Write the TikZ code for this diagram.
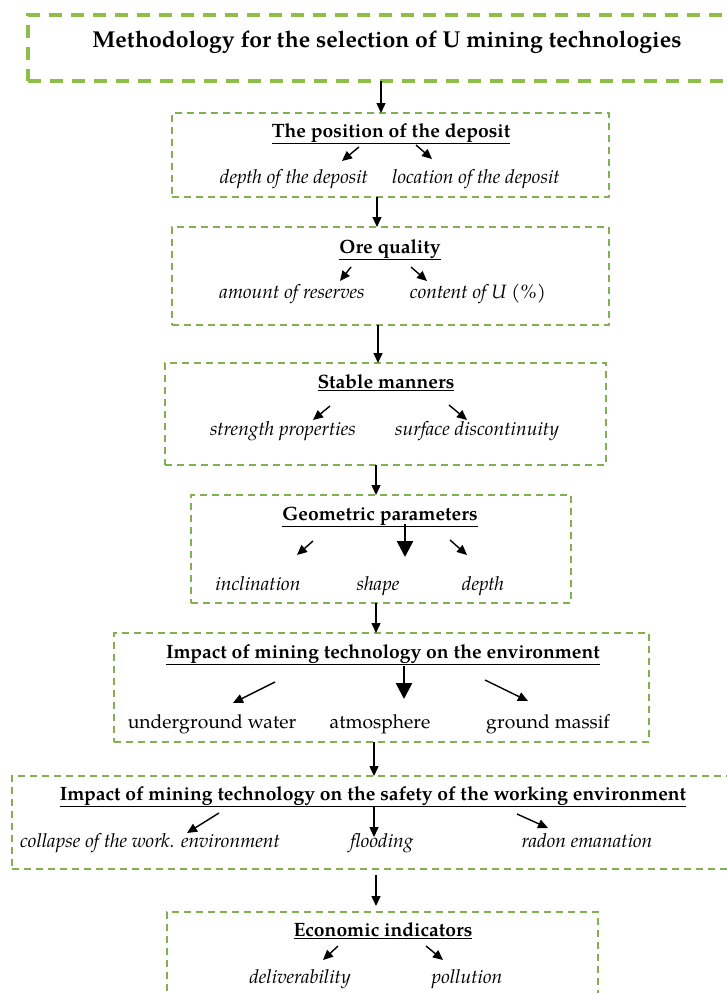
\documentclass[tikz,border=0pt]{standalone}
\usepackage{fontspec}
\setmainfont{TeX Gyre Pagella}
\usetikzlibrary{arrows.meta}
\definecolor{gthick}{RGB}{141,190,70}
\definecolor{gthin}{RGB}{128,176,82}
\tikzset{
  bigbox/.style={draw=gthick, line width=3.6pt, dash pattern=on 13pt off 9pt, inner sep=0pt, outer sep=0pt},
  thinbox/.style={draw=gthin, line width=1.4pt, dash pattern=on 7pt off 5pt, inner sep=0pt, outer sep=0pt},
  headtxt/.style={anchor=base, inner sep=0pt, font=\fontsize{19.3}{22}\selectfont\bfseries},
  maintxt/.style={anchor=base, inner sep=0pt, font=\fontsize{23}{27}\selectfont\bfseries},
  subit/.style={anchor=base, inner sep=0pt, font=\fontsize{19.3}{22}\selectfont\itshape},
  subup/.style={anchor=base, inner sep=0pt, font=\fontsize{19.3}{22}\selectfont},
  arr/.style={draw=black, line width=1.4pt, -{Triangle[width=9pt,length=10pt]}},
  bigarr/.style={draw=black, line width=2.6pt, -{Triangle[width=16pt,length=16pt]}}
}
\begin{document}
\begin{tikzpicture}[x=1pt,y=-1pt]
\useasboundingbox (0,0) rectangle (727,993);
\clip (0,0) rectangle (727,993);
% boxes
\node[bigbox, minimum width=710pt, minimum height=66pt] (b1) at (383,48) {};
\node[thinbox, minimum width=437pt, minimum height=84pt] (b2) at (390.5,155) {};
\node[thinbox, minimum width=437pt, minimum height=98pt] (b3) at (390.5,276) {};
\node[thinbox, minimum width=441pt, minimum height=102pt] (b4) at (385.5,414) {};
\node[thinbox, minimum width=380pt, minimum height=108pt] (b5) at (381,549) {};
\node[thinbox, minimum width=535pt, minimum height=109pt] (b6) at (381.5,687.5) {};
\node[thinbox, minimum width=728pt, minimum height=93pt] (b7) at (376,822.5) {};
\node[thinbox, minimum width=431pt, minimum height=98pt] (b8) at (382.5,961) {};
% texts
\node[maintxt] (t1) at (387,47) {Methodology for the selection of U mining technologies};
\node[headtxt] (t2) at (391,137) {\underline{The position of the deposit}};
\node[subit] (s2a) at (294,183) {depth of the deposit};
\node[subit] (s2b) at (476,183) {location of the deposit};
\node[headtxt] (t3) at (390,253) {\underline{Ore quality}};
\node[subit] (s3a) at (292,298) {amount of reserves};
\node[subit] (s3b) at (478,298) {content of U (\%)};
\node[headtxt] (t4) at (386,388) {\underline{Stable manners}};
\node[subit] (s4a) at (283,435) {strength properties};
\node[subit] (s4b) at (477,435) {surface discontinuity};
\node[headtxt] (t5) at (380,520) {\underline{Geometric parameters}};
\node[subit] (s5a) at (258,590) {inclination};
\node[subit] (s5b) at (378,590) {shape};
\node[subit] (s5c) at (483,590) {depth};
\node[headtxt] (t6) at (383,658) {\underline{Impact of mining technology on the environment}};
\node[subup] (s6a) at (212,728) {underground water};
\node[subup] (s6b) at (380,728) {atmosphere};
\node[subup] (s6c) at (548,728) {ground massif};
\node[headtxt] (t7) at (373,800) {\underline{Impact of mining technology on the safety of the working environment}};
\node[subit] (s7a) at (150,847) {collapse of the work. environment};
\node[subit] (s7b) at (382,847) {flooding};
\node[subit] (s7c) at (587,847) {radon emanation};
\node[headtxt] (t8) at (383,936) {\underline{Economic indicators}};
\node[subit] (s8a) at (300,983) {deliverability};
\node[subit] (s8b) at (467,983) {pollution};
% x positions for connectors between boxes
\coordinate (x1) at (381,0);
\coordinate (x2) at (377,0);
\coordinate (x3) at (378,0);
\coordinate (x4) at (376,0);
\coordinate (x5) at (376,0);
\coordinate (x6) at (374,0);
\coordinate (x7) at (376,0);
\draw[arr] (x1 |- b1.south) -- (x1 |- b2.north);
\draw[arr] (x2 |- b2.south) -- (x2 |- b3.north);
\draw[arr] (x3 |- b3.south) -- (x3 |- b4.north);
\draw[arr] (x4 |- b4.south) -- (x4 |- b5.north);
\draw[arr] (x5 |- b5.south) -- (x5 |- b6.north);
\draw[arr] (x6 |- b6.south) -- (x6 |- b7.north);
\draw[arr, shorten <=6pt, shorten >=6pt] (x7 |- b7.south) -- (x7 |- b8.north);
% inner connectors
\coordinate (p2a) at (359,147); \coordinate (q2a) at (342,161);
\coordinate (p2b) at (416,145); \coordinate (q2b) at (432,159);
\coordinate (p3a) at (351,267); \coordinate (q3a) at (340,281);
\coordinate (p3b) at (411,267); \coordinate (q3b) at (427,281);
\coordinate (p4a) at (330,406); \coordinate (q4a) at (313,420);
\coordinate (p4b) at (449,405); \coordinate (q4b) at (467,420);
\coordinate (p5a) at (313,541); \coordinate (q5a) at (297,555);
\coordinate (p5b) at (405,524); \coordinate (q5b) at (405,557);
\coordinate (p5c) at (450,540); \coordinate (q5c) at (467,555);
\coordinate (p6a) at (275,682); \coordinate (q6a) at (233,703);
\coordinate (p6b) at (404,666); \coordinate (q6b) at (404,699);
\coordinate (p6c) at (485,680); \coordinate (q6c) at (528,701);
\coordinate (p7a) at (219,813); \coordinate (q7a) at (187,833);
\coordinate (p7b) at (374,807); \coordinate (q7b) at (374,837);
\coordinate (p7c) at (517,814); \coordinate (q7c) at (548,828);
\coordinate (p8a) at (338,946); \coordinate (q8a) at (323,960);
\coordinate (p8b) at (426,946); \coordinate (q8b) at (443,960);
\draw[arr] (p2a) -- (q2a);
\draw[arr] (p2b) -- (q2b);
\draw[arr] (p3a) -- (q3a);
\draw[arr] (p3b) -- (q3b);
\draw[arr] (p4a) -- (q4a);
\draw[arr] (p4b) -- (q4b);
\draw[arr] (p5a) -- (q5a);
\draw[bigarr] (p5b) -- (q5b);
\draw[arr] (p5c) -- (q5c);
\draw[arr] (p6a) -- (q6a);
\draw[bigarr] (p6b) -- (q6b);
\draw[arr] (p6c) -- (q6c);
\draw[arr] (p7a) -- (q7a);
\draw[arr] (p7b) -- (q7b);
\draw[arr] (p7c) -- (q7c);
\draw[arr] (p8a) -- (q8a);
\draw[arr] (p8b) -- (q8b);
\end{tikzpicture}
\end{document}
